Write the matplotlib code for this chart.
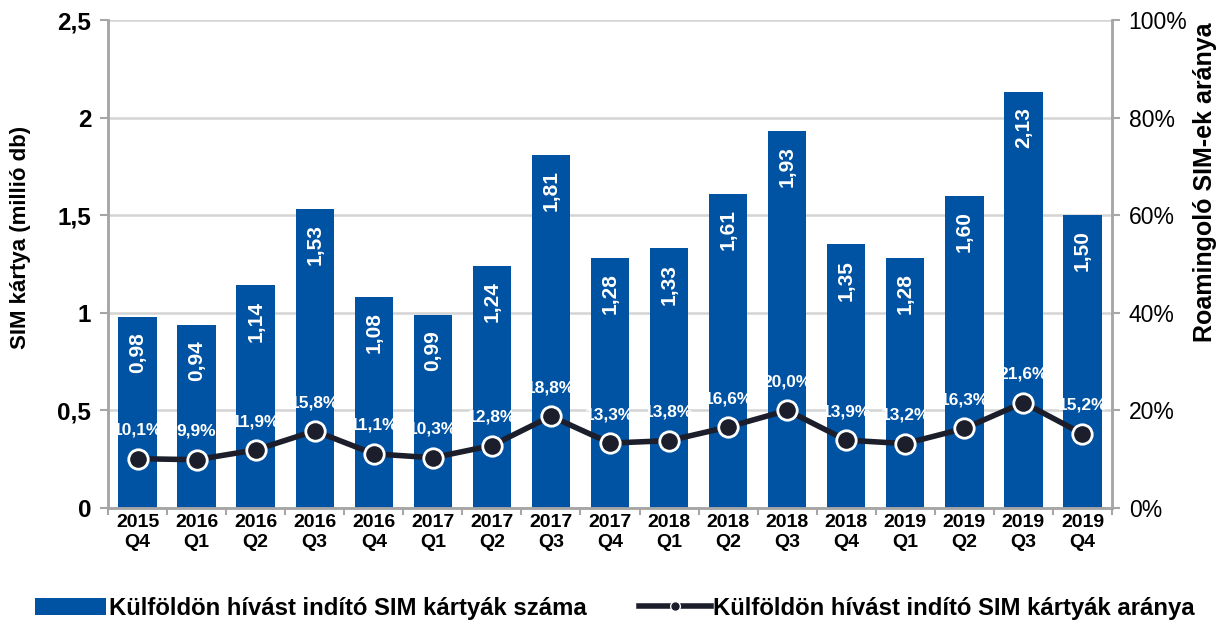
import numpy as np
import matplotlib
matplotlib.use("Agg")
import matplotlib.pyplot as plt
from matplotlib.ticker import FuncFormatter
from matplotlib.lines import Line2D
from matplotlib.patches import Patch

plt.rcParams['font.family'] = ['Liberation Sans', 'DejaVu Sans']

# ===== Adatok =====
years = ['2015', '2016', '2016', '2016', '2016', '2017', '2017', '2017', '2017',
         '2018', '2018', '2018', '2018', '2019', '2019', '2019', '2019']
quarters = ['Q4', 'Q1', 'Q2', 'Q3', 'Q4', 'Q1', 'Q2', 'Q3', 'Q4',
            'Q1', 'Q2', 'Q3', 'Q4', 'Q1', 'Q2', 'Q3', 'Q4']
sim_count = [0.98, 0.94, 1.14, 1.53, 1.08, 0.99, 1.24, 1.81, 1.28,
             1.33, 1.61, 1.93, 1.35, 1.28, 1.60, 2.13, 1.50]
roaming_share = [10.1, 9.9, 11.9, 15.8, 11.1, 10.3, 12.8, 18.8, 13.3,
                 13.8, 16.6, 20.0, 13.9, 13.2, 16.3, 21.6, 15.2]

bar_color = '#0052A3'
line_color = '#1C1F2B'
grid_color = '#D4D4D4'
spine_color = '#A6A6A6'

fig = plt.figure(figsize=(12.27, 6.23), dpi=100)
ax = fig.add_axes([108 / 1227, 1 - 508 / 623, (1112 - 108) / 1227, (508 - 20) / 623])
ax2 = ax.twinx()

x = np.arange(len(sim_count))
labels = [f'{y}\n{q}' for y, q in zip(years, quarters)]

# ===== Oszlopok =====
ax.bar(x, sim_count, width=0.65, color=bar_color, zorder=2)
for xi, v in zip(x, sim_count):
    ax.annotate(f'{v:.2f}'.replace('.', ','), xy=(xi, v), xytext=(0, -11),
                textcoords='offset points', ha='center', va='top', rotation=90,
                color='white', fontsize=15, fontweight='bold', zorder=3)

ax.set_xlim(-0.5, len(sim_count) - 0.5)
ax.set_ylim(0, 2.5)
ax.set_yticks([0, 0.5, 1, 1.5, 2, 2.5])
ax.yaxis.set_major_formatter(FuncFormatter(lambda v, p: f'{v:g}'.replace('.', ',')))
ax.set_xticks(x)
ax.set_xticklabels(labels, fontsize=14, fontweight='bold', linespacing=1.3)
ax.set_xticks(np.arange(-0.5, len(sim_count), 1), minor=True)
ax.tick_params(axis='x', which='major', length=0, pad=4)
ax.tick_params(axis='x', which='minor', length=5, color=spine_color, width=1.5)
ax.tick_params(axis='y', labelsize=17.5, length=6, color=spine_color, width=1.5, pad=6)
for t in ax.get_yticklabels():
    t.set_fontweight('bold')
ax.grid(axis='y', color=grid_color, linewidth=1.8, zorder=0)
ax.set_axisbelow(True)
ax.set_ylabel('SIM kártya (millió db)', fontsize=16, fontweight='bold')
ax.yaxis.set_label_coords(-0.077, 0.555)

# ===== Vonal =====
share = np.array(roaming_share) / 100
ax2.plot(x, share, color=line_color, linewidth=4, marker='o', markersize=14,
         markerfacecolor=line_color, markeredgecolor='white', markeredgewidth=2, zorder=4)
for xi, v in zip(x, roaming_share):
    ax2.annotate(f'{v:.1f}%'.replace('.', ','), xy=(xi, v / 100), xytext=(0, 15),
                 textcoords='offset points', ha='center', va='bottom',
                 color='white', fontsize=12.5, fontweight='bold', zorder=5)
ax2.set_ylim(0, 1)
ax2.set_yticks([0, 0.2, 0.4, 0.6, 0.8, 1.0])
ax2.yaxis.set_major_formatter(FuncFormatter(lambda v, p: f'{v * 100:.0f}%'))
ax2.tick_params(axis='y', labelsize=16.5, length=6, color=spine_color, width=1.5, pad=6)
ax2.set_ylabel('Roamingoló SIM-ek aránya', fontsize=18, fontweight='bold')
ax2.yaxis.set_label_coords(1.081, 0.668)

for a in (ax, ax2):
    a.spines['top'].set_visible(False)
    for s in ['left', 'right', 'bottom']:
        a.spines[s].set_color(spine_color)
        a.spines[s].set_linewidth(1.8)

# ===== Jelmagyarázat =====
handles = [Patch(facecolor=bar_color, edgecolor='none'),
           Line2D([0], [0], color=line_color, linewidth=4, marker='o', markersize=7,
                  markerfacecolor=line_color, markeredgecolor='white')]
fig.legend(handles, ['Külföldön hívást indító SIM kártyák száma',
                     'Külföldön hívást indító SIM kártyák aránya'],
           loc='center', bbox_to_anchor=(0.501, 1 - 608 / 623), ncol=2, frameon=False,
           prop={'size': 17.2, 'weight': 'bold'}, columnspacing=2.2,
           handlelength=3.0, handleheight=0.7, handletextpad=0.1)

fig.savefig('out.png', dpi=100)
